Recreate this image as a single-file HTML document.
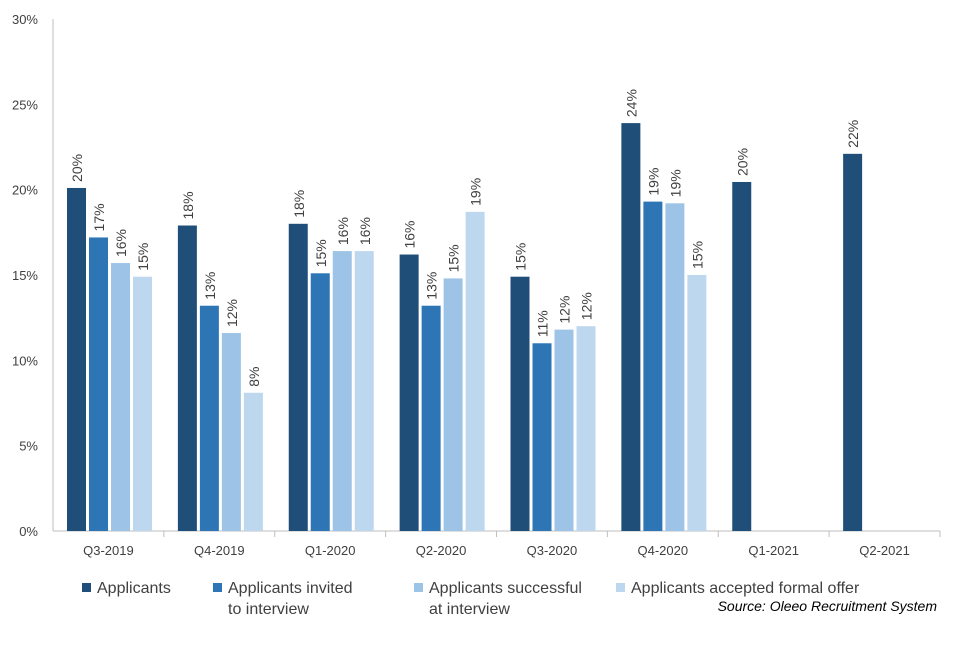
<!DOCTYPE html>
<html><head><meta charset="utf-8"><style>
body{margin:0;background:#fff;font-family:"Liberation Sans",Arial,sans-serif}
svg text{font-family:"Liberation Sans",Arial,sans-serif;fill:#404040}
</style></head><body>
<svg id="chart" width="960" height="640" xmlns="http://www.w3.org/2000/svg"></svg>
<script>
const categories=["Q3-2019","Q4-2019","Q1-2020","Q2-2020","Q3-2020","Q4-2020","Q1-2021","Q2-2021"];
const applicants=[20.1,17.9,18.0,16.2,14.9,23.9,20.45,22.1];
const invited=[17.2,13.2,15.1,13.2,11.0,19.3,null,null];
const successful=[15.7,11.6,16.4,14.8,11.8,19.2,null,null];
const accepted=[14.9,8.1,16.4,18.7,12.0,15.0,null,null];
const yTicks=[0,5,10,15,20,25,30];
const seriesNames=["Applicants","Applicants invited to interview","Applicants successful at interview","Applicants accepted formal offer"];
const colors=["#1f4e79","#2e75b6","#9dc3e6","#bdd7ee"];
const series=[applicants,invited,successful,accepted];
const NS="http://www.w3.org/2000/svg",svg=document.getElementById("chart");
const x0=53,x1=940,y0=531,yTop=19,gw=(x1-x0)/categories.length;
const y=v=>y0-(v/30)*(y0-yTop);
function mk(t,a,p){const e=document.createElementNS(NS,t);for(const k in a)e.setAttribute(k,a[k]);(p||svg).appendChild(e);return e;}
yTicks.forEach(t=>{const e=mk("text",{x:38,y:y(t)+5,"text-anchor":"end","font-size":13});e.textContent=t+"%";

});
const ax=mk("line",{x1:x0,y1:yTop,x2:x0,y2:y0,stroke:"#bfbfbf"});


const bx=mk("line",{x1:x0,y1:y0,x2:x1,y2:y0,stroke:"#bfbfbf"});


categories.forEach((c,i)=>{
 const gx=x0+i*gw;
 const tk=mk("line",{x1:gx+gw,y1:y0,x2:gx+gw,y2:y0+6,stroke:"#bfbfbf"});
 
 
 const lt=mk("text",{x:gx+gw/2,y:y0+24,"text-anchor":"middle","font-size":13});lt.textContent=c;
 
 
 series.forEach((s,j)=>{
  const v=s[i];if(v==null)return;
  const bxp=gx+14+j*22;
  const r=mk("rect",{x:bxp,y:y(v),width:19,height:y0-y(v),fill:colors[j]});
  
  
  const t=mk("text",{transform:`translate(${bxp+15},${y(v)-6}) rotate(-90)`,"font-size":14});
  t.textContent=Math.round(v)+"%";
  
  
 });
});
const lx=[82,213,414,616];
seriesNames.forEach((n,j)=>{
 const g=mk("g",{});
 
 
 mk("rect",{x:lx[j],y:583,width:9,height:9,fill:colors[j]},g);
 const words=j==1?["Applicants invited","to interview"]:j==2?["Applicants successful","at interview"]:[n];
 words.forEach((w,k)=>{const t=mk("text",{x:lx[j]+15,y:593+k*21,"font-size":16},g);t.textContent=w;});
});
const src=mk("text",{x:937,y:611,"text-anchor":"end","font-size":14,"font-style":"italic",style:"fill:#000"});
src.textContent="Source: Oleeo Recruitment System";


</script>
</body></html>
